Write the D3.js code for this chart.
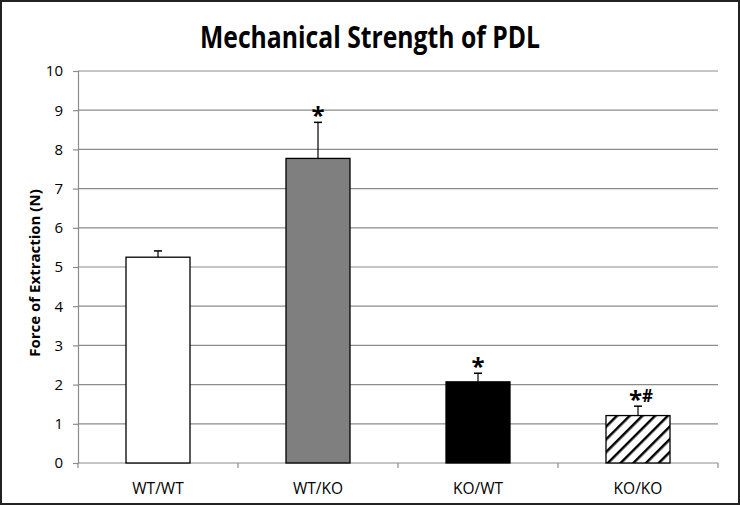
<!DOCTYPE html>
<html><head><meta charset="utf-8">
<script src="https://cdn.jsdelivr.net/npm/d3@7"></script>
<style>body{margin:0;background:#fff}svg{display:block}</style>
</head><body>
<svg id="c" width="740" height="505"></svg>
<script>
const categories = ["WT/WT", "WT/KO", "KO/WT", "KO/KO"];
const values = [5.25, 7.77, 2.07, 1.21];
const errors = [0.16, 0.92, 0.22, 0.24];
const marks = ["", "*", "*", "*#"];
const fills = ["#ffffff", "#7f7f7f", "#000000", "hatch"];
const yTicks = [0,1,2,3,4,5,6,7,8,9,10];

const svg = d3.select("#c");
const W = 740, H = 505;
const m = {left: 78, right: 22, top: 71, bottom: 42};
const FONT = "'Open Sans', sans-serif";
const x = d3.scaleBand().domain(categories).range([m.left, W - m.right]).paddingInner(0.6).paddingOuter(0.3);
const y = d3.scaleLinear().domain([0, 10]).range([H - m.bottom, m.top]);

const defs = svg.append("defs");
const pat = defs.append("pattern").attr("id","hatch").attr("patternUnits","userSpaceOnUse")
  .attr("width",9).attr("height",9).attr("patternTransform","rotate(45)");
pat.append("rect").attr("width",9).attr("height",9).attr("fill","#fff");
pat.append("line").attr("x1",0).attr("y1",0).attr("x2",0).attr("y2",9).attr("stroke","#000").attr("stroke-width",5);

svg.append("rect").attr("x",1).attr("y",1).attr("width",W-2).attr("height",H-2)
  .attr("fill","#fff").attr("stroke","#222").attr("stroke-width",2);

svg.append("text").attr("x", 370).attr("y", 48).attr("text-anchor","middle")
  .attr("font-family",FONT).attr("font-weight","bold").attr("font-size",31)
  .attr("textLength",340).attr("lengthAdjust","spacingAndGlyphs")
  .attr("fill","#000").text("Mechanical Strength of PDL");

// gridlines
svg.append("g").selectAll("line").data(yTicks.filter(d=>d>0)).join("line")
  .attr("x1", m.left).attr("x2", W - m.right).attr("y1", d=>y(d)).attr("y2", d=>y(d))
  .attr("stroke","#8c8c8c").attr("stroke-width",1.2);

// y axis
const ya = svg.append("g").attr("transform",`translate(${m.left},0)`)
  .call(d3.axisLeft(y).tickValues(yTicks).tickSize(5).tickPadding(10));
ya.select(".domain").attr("stroke","#8c8c8c").attr("stroke-width",1.2);
ya.selectAll(".tick line").attr("stroke","#8c8c8c").attr("stroke-width",1.2);
ya.selectAll("text").attr("font-family",FONT).attr("font-size",15).attr("fill","#000");

// x axis
const bounds = d3.range(categories.length + 1).map(i => m.left + i * (W - m.right - m.left) / categories.length);
const xa = svg.append("g");
xa.append("line").attr("x1", m.left).attr("x2", W - m.right).attr("y1", y(0)).attr("y2", y(0))
  .attr("stroke","#8c8c8c").attr("stroke-width",1.2);
xa.selectAll("line.t").data(bounds).join("line").attr("class","t")
  .attr("x1", d=>d).attr("x2", d=>d).attr("y1", y(0)).attr("y2", y(0)+5)
  .attr("stroke","#8c8c8c").attr("stroke-width",1.2);
xa.selectAll("text").data(categories).join("text")
  .attr("x", d => x(d) + x.bandwidth()/2).attr("y", 494).attr("text-anchor","middle")
  .attr("font-family",FONT).attr("font-size",15.5).attr("fill","#000").text(d=>d);

// y label
svg.append("text").attr("transform",`translate(40,273) rotate(-90)`).attr("text-anchor","middle")
  .attr("font-family",FONT).attr("font-weight","bold").attr("font-size",15)
  .attr("fill","#000").text("Force of Extraction (N)");

// error bars
const eg = svg.append("g");
categories.forEach((c,i) => {
  const cx = x(c) + x.bandwidth()/2;
  eg.append("line").attr("x1",cx).attr("x2",cx).attr("y1",y(values[i])).attr("y2",y(values[i]+errors[i]))
    .attr("stroke","#000").attr("stroke-width",1.2);
  eg.append("line").attr("x1",cx-4).attr("x2",cx+4).attr("y1",y(values[i]+errors[i])).attr("y2",y(values[i]+errors[i]))
    .attr("stroke","#000").attr("stroke-width",1.5);
});

// bars
svg.append("g").selectAll("rect").data(categories).join("rect")
  .attr("x", d=>x(d)).attr("width", x.bandwidth())
  .attr("y", (d,i)=>y(values[i])).attr("height",(d,i)=>y(0)-y(values[i]))
  .attr("fill",(d,i)=>fills[i]==="hatch"?"url(#hatch)":fills[i])
  .attr("stroke","#000").attr("stroke-width",1.3);

// significance marks
const mg = svg.append("g");
categories.forEach((c,i) => {
  if (!marks[i]) return;
  const t = mg.append("text").attr("x", x(c) + x.bandwidth()/2 + (marks[i].length>1?3:0))
    .attr("y", y(values[i]+errors[i]) + 2)
    .attr("text-anchor","middle").attr("font-family",FONT).attr("font-weight","bold").attr("fill","#000");
  t.append("tspan").attr("font-size",24).text(marks[i][0]);
  if (marks[i].length > 1) t.append("tspan").attr("font-size",17).attr("dy",-6).text(marks[i].slice(1));
});
</script>
</body></html>
